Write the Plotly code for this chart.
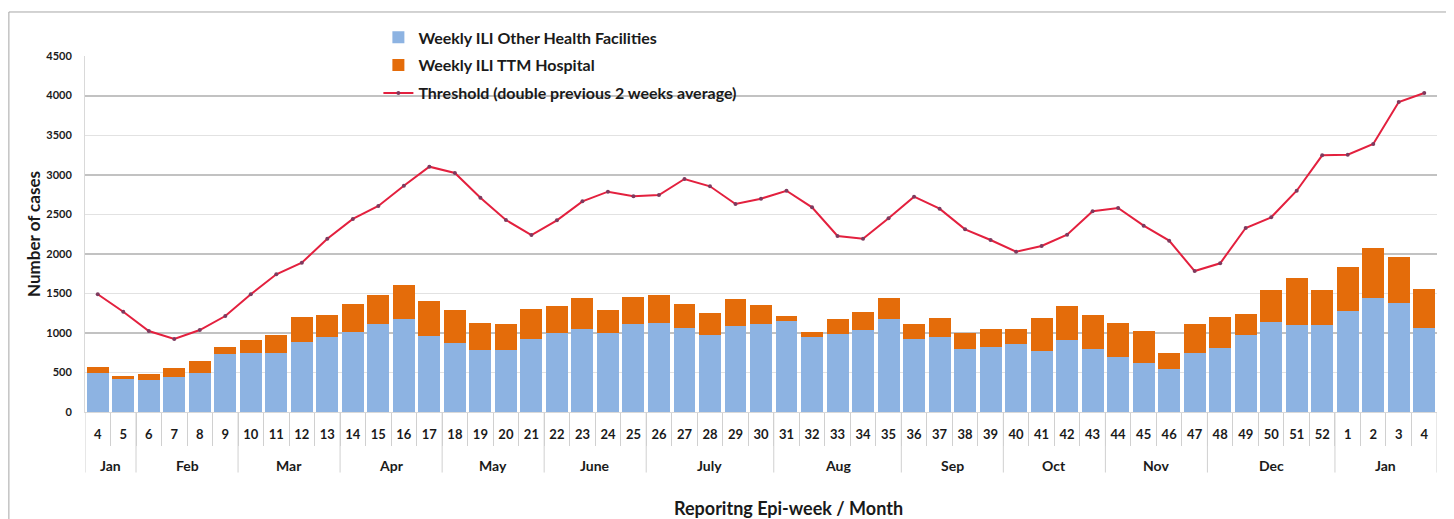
import plotly.graph_objects as go

weeks = ["4", "5", "6", "7", "8", "9", "10", "11", "12", "13", "14", "15", "16", "17",
         "18", "19", "20", "21", "22", "23", "24", "25", "26", "27", "28", "29", "30",
         "31", "32", "33", "34", "35", "36", "37", "38", "39", "40", "41", "42", "43",
         "44", "45", "46", "47", "48", "49", "50", "51", "52", "1", "2", "3", "4"]
month_names = ["Jan", "Feb", "Mar", "Apr", "May", "June", "July", "Aug", "Sep", "Oct",
               "Nov", "Dec", "Jan"]
month_week_counts = [2, 4, 4, 4, 4, 4, 5, 5, 4, 4, 4, 5, 4]

other_facilities = [490, 415, 405, 440, 490, 730, 750, 750, 890, 945, 1015, 1110, 1175, 955,
                    875, 790, 785, 920, 995, 1055, 1000, 1110, 1120, 1060, 975, 1090, 1110,
                    1155, 950, 985, 1035, 1175, 920, 950, 795, 825, 860, 770, 910, 800,
                    700, 620, 540, 750, 815, 975, 1135, 1100, 1100, 1275, 1435, 1375, 1060]
ttm_hospital = [75, 35, 73, 115, 150, 95, 160, 225, 315, 280, 350, 370, 430, 450,
                415, 340, 325, 385, 345, 380, 290, 350, 360, 300, 280, 340, 245,
                60, 60, 190, 235, 270, 190, 235, 200, 220, 185, 420, 430, 425,
                430, 400, 210, 360, 390, 270, 405, 590, 440, 555, 635, 580, 500]
threshold = [1488, 1268, 1024, 923, 1036, 1213, 1488, 1741, 1887, 2190, 2440, 2604, 2860, 3101,
             3021, 2709, 2427, 2237, 2423, 2663, 2785, 2726, 2743, 2945, 2853, 2629, 2696,
             2797, 2587, 2225, 2190, 2448, 2722, 2570, 2309, 2174, 2026, 2098, 2241, 2537,
             2579, 2355, 2166, 1782, 1880, 2326, 2461, 2797, 3244, 3252, 3388, 3918, 4032]

FONT = "Lato"
TXT = "#1a1a1a"
SEP = "#D0D0D0"
pos = list(range(len(weeks)))

fig = go.Figure()
fig.add_trace(go.Bar(x=pos, y=other_facilities, name="Weekly ILI Other Health Facilities",
                     marker=dict(color="#8DB3E2", line=dict(width=0)), legendgroup="a"))
fig.add_trace(go.Bar(x=pos, y=ttm_hospital, name="Weekly ILI TTM Hospital",
                     marker=dict(color="#E46C0A", line=dict(width=0)), legendgroup="b"))
fig.add_trace(go.Scatter(x=pos, y=threshold, name="Threshold (double previous 2 weeks average)",
                         mode="lines+markers", line=dict(color="#E3203E", width=2),
                         marker=dict(color="#7E3A5E", size=4), legendgroup="c", yaxis="y2"))

# month group labels and dividers, derived from the month week counts
annotations = []
shapes = []
start = 0
boundaries = [-0.5]
for name, n in zip(month_names, month_week_counts):
    centre = start + (n - 1) / 2
    annotations.append(dict(text=f"<b>{name}</b>", x=centre, xref="x", y=-0.149, yref="paper",
                            showarrow=False, xanchor="center", yanchor="middle",
                            font=dict(family=FONT, size=14, color=TXT)))
    start += n
    boundaries.append(start - 0.5)
for b in boundaries:
    shapes.append(dict(type="line", xref="x", yref="paper", x0=b, x1=b, y0=0, y1=-0.17,
                       line=dict(color=SEP, width=1)))

annotations.append(dict(text="<b>Reporitng Epi-week / Month</b>", xref="paper", yref="paper",
                        x=0.52, y=-0.27, xanchor="center", yanchor="middle", showarrow=False,
                        font=dict(family=FONT, size=18, color=TXT)))
shapes.append(dict(type="rect", xref="paper", yref="paper", x0=-0.0563, x1=1.03,
                   y0=-0.4, y1=1.1236, line=dict(color="#A6A6A6", width=1), layer="below"))

fig.update_layout(
    width=1446, height=511,
    margin=dict(l=77, r=17, t=48, b=107),
    paper_bgcolor="white", plot_bgcolor="white",
    barmode="stack", bargap=0.14,
    font=dict(family=FONT, color=TXT),
    showlegend=True,
    legend=dict(x=0.217, y=1.1, xanchor="left", yanchor="top",
                traceorder="grouped", tracegroupgap=4,
                font=dict(family=FONT, size=16, color=TXT, weight="bold"),
                bgcolor="rgba(255,255,255,0)"),
    annotations=annotations,
    shapes=shapes,
    yaxis2=dict(overlaying="y", side="left", range=[0, 4500], dtick=1000,
                showticklabels=False, ticks="", showgrid=True, gridcolor="#C2C2C2",
                gridwidth=1.5, zeroline=False, showline=False, automargin=False),
)

fig.update_yaxes(selector=dict(anchor="x"))
fig.update_layout(yaxis=dict(range=[0, 4500], dtick=500, showgrid=True, gridcolor="#E2E2E2",
                             gridwidth=1, showline=True, linecolor="#D9D9D9", zeroline=False,
                             ticks="", ticklabelstandoff=10, automargin=False,
                             tickfont=dict(family=FONT, size=11, color=TXT, weight="bold"),
                             title=dict(text="<b>Number of cases</b>", standoff=1,
                                        font=dict(family=FONT, size=17, color=TXT))))
fig.update_xaxes(range=[-0.5, len(weeks) - 0.5], tickmode="array", tickvals=pos,
                 ticktext=weeks, ticks="", showgrid=False, zeroline=False,
                 showline=True, linecolor="#D9D9D9", tickangle=0, automargin=False,
                 ticklabelstandoff=10,
                 minor=dict(tickmode="array", tickvals=[p + 0.5 for p in pos[:-1]],
                            ticks="outside", ticklen=33, tickcolor=SEP, showgrid=False),
                 tickfont=dict(family=FONT, size=13, color=TXT, weight="bold"))

fig.write_html("out.html")
